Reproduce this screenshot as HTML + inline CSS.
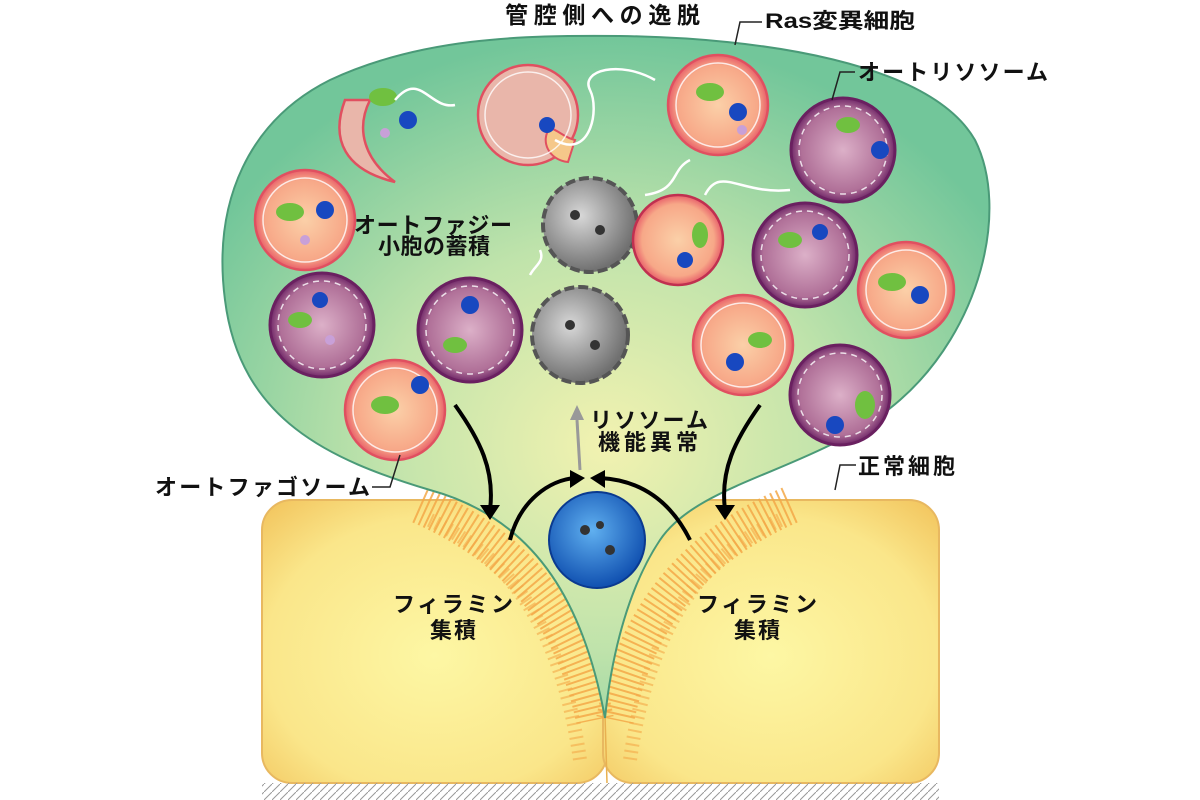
<!DOCTYPE html>
<html><head><meta charset="utf-8">
<style>
html,body{margin:0;padding:0;background:#fff;}
svg{display:block;}
text{font-family:"Liberation Sans","Noto Sans CJK JP",sans-serif;font-weight:bold;fill:#111;}
</style></head>
<body>
<svg width="1200" height="800" viewBox="0 0 1200 800" xmlns="http://www.w3.org/2000/svg">
<defs>
<radialGradient id="green" cx="0.5" cy="0.6" r="0.6">
<stop offset="0" stop-color="#f2f2b0"/><stop offset="0.5" stop-color="#bfe3ab"/><stop offset="1" stop-color="#72c69a"/>
</radialGradient>
<radialGradient id="yel" cx="0.5" cy="0.55" r="0.7">
<stop offset="0" stop-color="#fdf7a4"/><stop offset="0.7" stop-color="#fae68a"/><stop offset="1" stop-color="#f3c862"/>
</radialGradient>
<radialGradient id="org" cx="0.5" cy="0.5" r="0.5">
<stop offset="0" stop-color="#fbd0a8"/><stop offset="0.8" stop-color="#f7a888"/><stop offset="1" stop-color="#e8606a"/>
</radialGradient>
<radialGradient id="pur" cx="0.5" cy="0.5" r="0.5">
<stop offset="0" stop-color="#dcb0c8"/><stop offset="0.8" stop-color="#b07098"/><stop offset="1" stop-color="#702868"/>
</radialGradient>
<radialGradient id="gray" cx="0.4" cy="0.4" r="0.6">
<stop offset="0" stop-color="#d8d8d8"/><stop offset="1" stop-color="#707070"/>
</radialGradient>
<radialGradient id="blue" cx="0.45" cy="0.4" r="0.6">
<stop offset="0" stop-color="#60b0f0"/><stop offset="1" stop-color="#1050b0"/>
</radialGradient>
<pattern id="hatch" width="8" height="8" patternUnits="userSpaceOnUse">
<path d="M0 8 L8 0" stroke="#999" stroke-width="1"/>
</pattern>
</defs>

<rect x="262" y="500" width="345" height="283" rx="30" fill="url(#yel)" stroke="#e8b860" stroke-width="2"/>
<rect x="603" y="500" width="336" height="283" rx="30" fill="url(#yel)" stroke="#e8b860" stroke-width="2"/>
<rect x="262" y="783" width="677" height="17" fill="url(#hatch)"/>
<g fill="none" stroke="#f3a848" stroke-linecap="butt">
<path d="M420 505 C500 540 570 600 595 720" stroke-width="38" stroke-dasharray="2 4" opacity="0.85"/>
<path d="M790 505 C710 540 640 600 615 720" stroke-width="38" stroke-dasharray="2 4" opacity="0.85"/>
<path d="M430 520 C505 555 560 620 580 760" stroke-width="14" stroke-dasharray="2 5" opacity="0.6"/>
<path d="M780 520 C705 555 650 620 630 760" stroke-width="14" stroke-dasharray="2 5" opacity="0.6"/>
</g>
<line x1="605" y1="715" x2="607" y2="783" stroke="#e8b050" stroke-width="1.5"/>
<path d="M605 718 C585 610 540 520 430 490 C330 460 240 420 225 300 C212 200 250 120 330 80 C420 38 520 35 620 36 C760 38 930 62 975 140 C1010 210 980 330 900 400 C820 470 700 480 660 540 C630 585 612 650 605 718 Z" fill="url(#green)" stroke="#4a9a78" stroke-width="2"/>

<g stroke="#e05060" stroke-width="2.5">
<circle cx="718" cy="105" r="50" fill="url(#org)"/>
<circle cx="305" cy="220" r="50" fill="url(#org)"/>
<circle cx="395" cy="410" r="50" fill="url(#org)"/>
<circle cx="906" cy="290" r="48" fill="url(#org)"/>
<circle cx="743" cy="345" r="50" fill="url(#org)"/>
<circle cx="528" cy="115" r="50" fill="#e9b6aa"/>
<path d="M345 100 C330 140 345 170 395 182 C365 160 355 130 370 100 Z" fill="#e9b6aa"/>
</g>
<path d="M550 128 C540 140 548 160 568 162 L575 140 C565 138 558 130 550 128Z" fill="#f5c88a" stroke="#e05060" stroke-width="2"/>
<g fill="none" stroke="#fff" stroke-width="1.5" opacity="0.8">
<circle cx="718" cy="105" r="42"/><circle cx="305" cy="220" r="42"/><circle cx="395" cy="410" r="42"/>
<circle cx="906" cy="290" r="40"/><circle cx="743" cy="345" r="42"/><circle cx="528" cy="115" r="43"/>
</g>
<g stroke="#6a2060" stroke-width="3">
<circle cx="843" cy="150" r="52" fill="url(#pur)"/>
<circle cx="322" cy="325" r="52" fill="url(#pur)"/>
<circle cx="470" cy="330" r="52" fill="url(#pur)"/>
<circle cx="805" cy="255" r="52" fill="url(#pur)"/>
<circle cx="840" cy="395" r="50" fill="url(#pur)"/>
</g>
<g fill="none" stroke="#fff" stroke-width="1.5" stroke-dasharray="6 5" opacity="0.8">
<circle cx="843" cy="150" r="44"/><circle cx="322" cy="325" r="44"/><circle cx="470" cy="330" r="44"/>
<circle cx="805" cy="255" r="44"/><circle cx="840" cy="395" r="42"/>
</g>
<circle cx="590" cy="225" r="47" fill="url(#gray)" stroke="#555" stroke-width="4" stroke-dasharray="10 4"/>
<circle cx="580" cy="335" r="48" fill="url(#gray)" stroke="#555" stroke-width="4" stroke-dasharray="10 4"/>
<circle cx="678" cy="240" r="45" fill="url(#org)" stroke="#c03050" stroke-width="2.5"/>
<circle cx="597" cy="540" r="48" fill="url(#blue)" stroke="#0a3a90" stroke-width="2"/>

<g fill="#70c040"><ellipse cx="290" cy="212" rx="14" ry="9"/><ellipse cx="710" cy="92" rx="14" ry="9"/><ellipse cx="300" cy="320" rx="12" ry="8"/><ellipse cx="455" cy="345" rx="12" ry="8"/><ellipse cx="385" cy="405" rx="14" ry="9"/><ellipse cx="848" cy="125" rx="12" ry="8"/><ellipse cx="790" cy="240" rx="12" ry="8"/><ellipse cx="892" cy="282" rx="14" ry="9"/><ellipse cx="760" cy="340" rx="12" ry="8"/><ellipse cx="865" cy="405" rx="10" ry="14"/><ellipse cx="383" cy="97" rx="14" ry="9"/><ellipse cx="700" cy="235" rx="8" ry="13"/></g>
<g fill="#1848c0"><circle cx="325" cy="210" r="9"/><circle cx="738" cy="112" r="9"/><circle cx="880" cy="150" r="9"/><circle cx="470" cy="305" r="9"/><circle cx="420" cy="385" r="9"/><circle cx="920" cy="295" r="9"/><circle cx="735" cy="362" r="9"/><circle cx="835" cy="425" r="9"/><circle cx="408" cy="120" r="9"/><circle cx="547" cy="125" r="8"/><circle cx="320" cy="300" r="8"/><circle cx="820" cy="232" r="8"/><circle cx="685" cy="260" r="8"/></g>
<g fill="#c8a0d8"><circle cx="385" cy="133" r="5"/><circle cx="742" cy="130" r="5"/><circle cx="305" cy="240" r="5"/><circle cx="330" cy="340" r="5"/></g>
<g fill="#333"><circle cx="575" cy="215" r="5"/><circle cx="600" cy="230" r="5"/><circle cx="570" cy="325" r="5"/><circle cx="595" cy="345" r="5"/><circle cx="585" cy="530" r="5"/><circle cx="610" cy="550" r="5"/><circle cx="600" cy="525" r="4"/></g>

<g fill="none" stroke="#fff" stroke-width="2.5">
<path d="M395 100 C420 70 430 110 455 105"/>
<path d="M555 140 C590 160 600 110 590 90 C580 70 620 60 655 80"/>
<path d="M690 160 C670 170 680 190 645 195"/>
<path d="M705 195 C720 165 740 195 790 190"/>
<path d="M530 275 C535 265 545 262 540 250"/>
</g>
<g fill="none" stroke="#000" stroke-width="4">
<path d="M455 405 C480 440 495 470 490 510"/>
<path d="M510 540 C520 500 550 480 575 478"/>
<path d="M690 540 C670 500 640 480 600 478"/>
<path d="M760 405 C735 440 720 470 725 510"/>
</g>
<path d="M480 505 L490 520 L500 505Z M570 470 L585 478 L570 488Z M605 470 L590 478 L605 488Z M715 505 L725 520 L735 505Z" fill="#000"/>
<path d="M580 470 L577 420" stroke="#999" stroke-width="3"/>
<path d="M570 420 L577 405 L584 420Z" fill="#999"/>

<g fill="none" stroke="#222" stroke-width="1.5">
<path d="M762 22 L740 22 L735 45"/>
<path d="M855 72 L840 72 L832 100"/>
<path d="M372 487 L390 487 L400 455"/>
<path d="M856 465 L840 465 L835 490"/>
</g>

<text x="505" y="23" font-size="23" textLength="195" lengthAdjust="spacing">管腔側への逸脱</text>
<text x="765" y="28" font-size="21" textLength="150" lengthAdjust="spacingAndGlyphs">Ras変異細胞</text>
<text x="858" y="80" font-size="22" textLength="190" lengthAdjust="spacing">オートリソソーム</text>
<text x="354" y="233" font-size="22" textLength="158" lengthAdjust="spacing">オートファジー</text>
<text x="378" y="254" font-size="22" textLength="112" lengthAdjust="spacing">小胞の蓄積</text>
<text x="590" y="428" font-size="22" textLength="118" lengthAdjust="spacing">リソソーム</text>
<text x="598" y="450" font-size="22" textLength="100" lengthAdjust="spacing">機能異常</text>
<text x="155" y="495" font-size="22" textLength="215" lengthAdjust="spacing">オートファゴソーム</text>
<text x="858" y="474" font-size="22" textLength="97" lengthAdjust="spacing">正常細胞</text>
<text x="393" y="612" font-size="22" textLength="120" lengthAdjust="spacing">フィラミン</text>
<text x="430" y="638" font-size="22" textLength="46" lengthAdjust="spacing">集積</text>
<text x="697" y="612" font-size="22" textLength="120" lengthAdjust="spacing">フィラミン</text>
<text x="734" y="638" font-size="22" textLength="46" lengthAdjust="spacing">集積</text>
</svg>
</body></html>
